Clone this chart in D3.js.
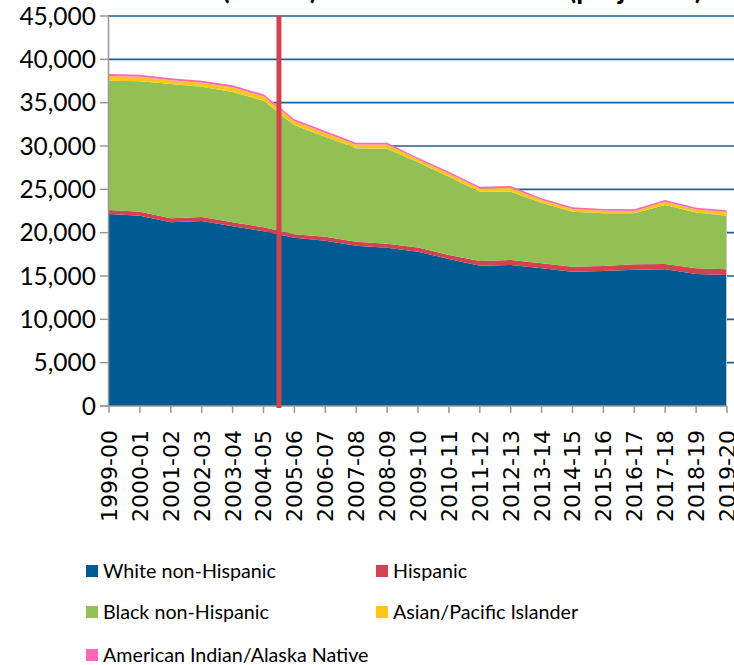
<!DOCTYPE html>
<html>
<head>
<meta charset="utf-8">
<script src="https://cdn.jsdelivr.net/npm/d3@7"></script>
<style>
  body { margin: 0; background: #fff; }
  svg { display: block; }
</style>
</head>
<body>
<svg id="chart" width="734" height="665"></svg>
<script>
// School years on the x axis
const years = ['1999-00', '2000-01', '2001-02', '2002-03', '2003-04', '2004-05', '2005-06',
  '2006-07', '2007-08', '2008-09', '2009-10', '2010-11', '2011-12', '2012-13', '2013-14',
  '2014-15', '2015-16', '2016-17', '2017-18', '2018-19', '2019-20'];

// Values, one per school year
const whiteNonHispanic = [22150, 21960, 21190, 21350, 20730, 20160, 19420, 19080, 18500, 18270, 17810,
  16960, 16190, 16270, 15890, 15500, 15580, 15730, 15770, 15230, 15120];
const hispanic = [465, 460, 460, 460, 460, 460, 390, 460, 460, 460, 480,
  460, 540, 580, 570, 580, 570, 620, 610, 660, 650];
const blackNonHispanic = [14920, 15040, 15500, 15030, 15040, 14610, 12580, 11530, 10770, 10960, 9830,
  9040, 8000, 7880, 7000, 6340, 6080, 5880, 6810, 6450, 6190];
const asianPacific = [540, 540, 440, 470, 540, 500, 470, 440, 430, 470, 320,
  370, 370, 430, 300, 300, 300, 260, 380, 340, 420];
const amIndianAlaska = [230, 230, 220, 225, 230, 230, 220, 220, 220, 220, 200,
  210, 210, 220, 200, 200, 200, 200, 200, 200, 200];

const seriesNames = ['White non-Hispanic', 'Hispanic', 'Black non-Hispanic',
  'Asian/Pacific Islander', 'American Indian/Alaska Native'];
const seriesValues = [whiteNonHispanic, hispanic, blackNonHispanic, asianPacific, amIndianAlaska];
const colours = ['#005b92', '#d1434f', '#92c055', '#ffc61e', '#ff69b4'];

const yTicks = d3.range(0, 45001, 5000);
const fmt = d3.format(',');

// rows for d3.stack
const rows = years.map((y, i) => {
  const r = { year: y };
  seriesNames.forEach((n, k) => { r[n] = seriesValues[k][i]; });
  return r;
});

const svg = d3.select('#chart');

const x = d3.scalePoint().domain(years).range([109, 727]);
const y = d3.scaleLinear().domain([0, 45000]).range([406, 16]);

// Title (mostly cut off at the top edge); shift it so the first "(" sits where it does in the original
const title = svg.append('text')
  .attr('x', 0)
  .attr('y', -1)
  .style('font-family', 'Lato, sans-serif')
  .style('font-weight', 'bold')
  .style('font-size', '28px')
  .text('Enrollment (Actual) and Fall Enrollment (projected)');
const parenIdx = title.text().indexOf('(');
const parenX = title.node().getStartPositionOfChar(parenIdx).x;
title.attr('x', 222 - parenX);

// Gridlines behind the areas
svg.append('g')
  .selectAll('line')
  .data(yTicks.filter(d => d > 0))
  .enter()
  .append('line')
  .attr('x1', 108)
  .attr('x2', 734)
  .attr('y1', d => y(d))
  .attr('y2', d => y(d))
  .attr('stroke', '#1f5e98')
  .attr('stroke-width', 1.7);

// Stacked areas
const stack = d3.stack().keys(seriesNames);
const layers = stack(rows);
const area = d3.area()
  .x(d => x(d.data.year))
  .y0(d => y(d[0]))
  .y1(d => y(d[1]));

svg.append('g')
  .selectAll('path')
  .data(layers)
  .enter()
  .append('path')
  .attr('d', area)
  .attr('fill', (d, i) => colours[i]);

// Light right edge of the plot area
const last = layers[layers.length - 1][years.length - 1];
svg.append('line')
  .attr('x1', x(years[years.length - 1]) - 0.5)
  .attr('x2', x(years[years.length - 1]) - 0.5)
  .attr('y1', y(last[1]))
  .attr('y2', y(0))
  .attr('stroke', '#c8c8c8')
  .attr('stroke-width', 1);

// Y axis
const yAxis = svg.append('g');
yAxis.append('line')
  .attr('x1', 108.5).attr('x2', 108.5)
  .attr('y1', y(45000)).attr('y2', y(0))
  .attr('stroke', '#999').attr('stroke-width', 1.5);
yAxis.selectAll('.tick')
  .data(yTicks)
  .enter()
  .append('line')
  .attr('x1', 100).attr('x2', 108)
  .attr('y1', d => y(d)).attr('y2', d => y(d))
  .attr('stroke', '#999').attr('stroke-width', 1.5);
yAxis.selectAll('text')
  .data(yTicks)
  .enter()
  .append('text')
  .attr('x', 96)
  .attr('y', d => y(d))
  .attr('dy', '0.35em')
  .attr('text-anchor', 'end')
  .style('font-family', 'Lato, sans-serif')
  .style('font-size', '24.5px')
  .text(d => fmt(d));

// X axis
const xAxis = svg.append('g');
xAxis.append('line')
  .attr('x1', 100).attr('x2', 727)
  .attr('y1', 406).attr('y2', 406)
  .attr('stroke', '#999').attr('stroke-width', 1.5);
xAxis.selectAll('.tick')
  .data(years)
  .enter()
  .append('line')
  .attr('x1', d => x(d)).attr('x2', d => x(d))
  .attr('y1', 406).attr('y2', 413)
  .attr('stroke', '#999').attr('stroke-width', 1.5);
xAxis.selectAll('text')
  .data(years)
  .enter()
  .append('text')
  .attr('transform', d => `translate(${x(d)},430) rotate(-90)`)
  .attr('dy', '0.36em')
  .attr('text-anchor', 'end')
  .style('font-family', '"DejaVu Sans", sans-serif')
  .style('font-size', '22px')
  .text(d => d);

// Red marker line between 2004-05 and 2005-06
const markX = (x('2004-05') + x('2005-06')) / 2;
svg.append('line')
  .attr('x1', markX).attr('x2', markX)
  .attr('y1', y(45000)).attr('y2', 408)
  .attr('stroke', '#d1434f')
  .attr('stroke-width', 5);

// Legend
const legendPos = [[86, 571], [376, 571], [86, 612], [376, 612], [86, 655]];
const legend = svg.append('g')
  .selectAll('g')
  .data(seriesNames)
  .enter()
  .append('g')
  .attr('transform', (d, i) => `translate(${legendPos[i][0]},${legendPos[i][1]})`);
legend.append('rect')
  .attr('x', 0).attr('y', -6)
  .attr('width', 12).attr('height', 12)
  .attr('fill', (d, i) => colours[i]);
legend.append('text')
  .attr('x', 17)
  .attr('y', 0)
  .attr('dy', '0.35em')
  .style('font-family', 'Lato, sans-serif')
  .style('font-size', '19.7px')
  .text(d => d);
</script>
</body>
</html>
